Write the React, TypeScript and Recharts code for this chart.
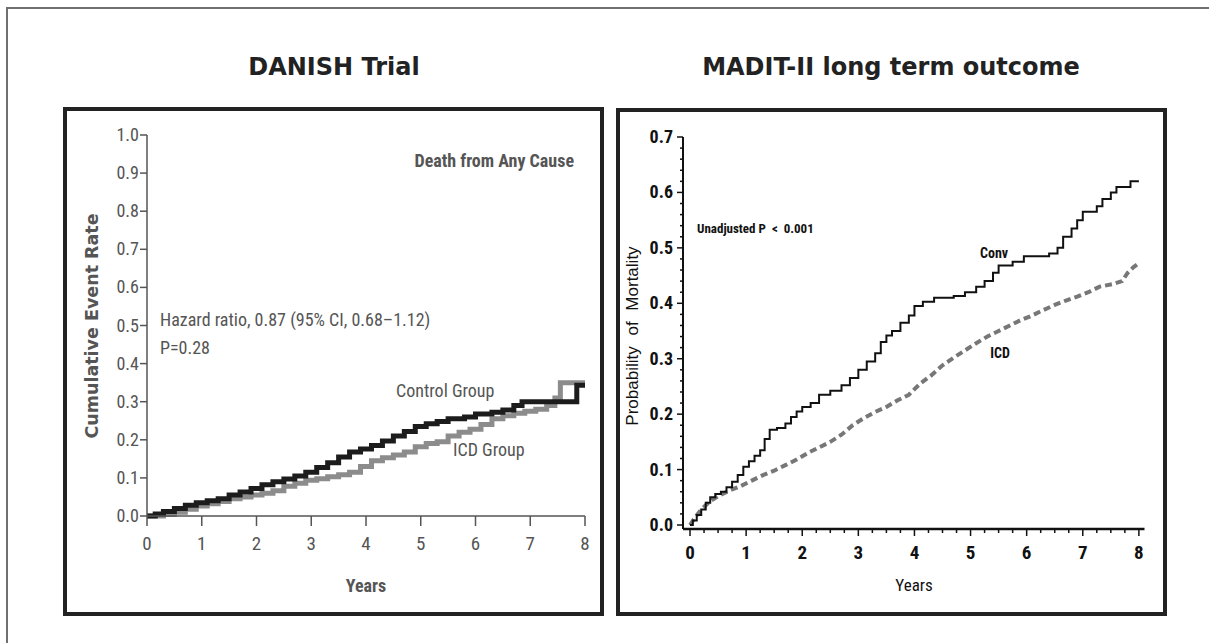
import React from 'react';
import { LineChart, Line, XAxis, YAxis } from 'recharts';

// ---------- DANISH trial (left) ----------
const danishControlYears = [0, 0.15, 0.3, 0.5, 0.7, 0.9, 1.1, 1.3, 1.5, 1.7, 1.9, 2.1, 2.3, 2.5, 2.7, 2.9, 3.1, 3.3, 3.5, 3.7, 3.9, 4.1, 4.3, 4.5, 4.7, 4.9, 5.1, 5.3, 5.5, 5.8, 6.0, 6.3, 6.5, 6.7, 6.85, 7.85, 8.0];
const danishControlRate = [0, 0.005, 0.012, 0.02, 0.028, 0.035, 0.04, 0.045, 0.055, 0.063, 0.072, 0.082, 0.09, 0.097, 0.105, 0.115, 0.127, 0.14, 0.155, 0.168, 0.176, 0.185, 0.197, 0.21, 0.222, 0.235, 0.242, 0.248, 0.255, 0.26, 0.268, 0.272, 0.278, 0.29, 0.3, 0.343, 0.343];
const danishIcdYears = [0, 0.3, 0.5, 0.7, 0.9, 1.1, 1.3, 1.5, 1.7, 1.9, 2.1, 2.3, 2.5, 2.7, 2.9, 3.1, 3.3, 3.5, 3.7, 3.9, 4.1, 4.3, 4.5, 4.7, 4.9, 5.1, 5.3, 5.5, 5.7, 5.9, 6.1, 6.3, 6.5, 6.7, 6.9, 7.1, 7.3, 7.45, 7.55, 8.0];
const danishIcdRate = [0, 0.004, 0.01, 0.018, 0.026, 0.032, 0.038, 0.045, 0.05, 0.055, 0.06, 0.066, 0.078, 0.086, 0.094, 0.098, 0.103, 0.108, 0.115, 0.13, 0.145, 0.153, 0.16, 0.168, 0.182, 0.19, 0.195, 0.21, 0.22, 0.228, 0.24, 0.255, 0.263, 0.27, 0.275, 0.28, 0.29, 0.31, 0.35, 0.35];
const danishYTicks = [0, 0.1, 0.2, 0.3, 0.4, 0.5, 0.6, 0.7, 0.8, 0.9, 1.0];
const danishXTicks = [0, 1, 2, 3, 4, 5, 6, 7, 8];

// ---------- MADIT-II (right) ----------
const maditConvYears = [0, 0.05, 0.12, 0.2, 0.28, 0.36, 0.45, 0.55, 0.65, 0.75, 0.85, 0.95, 1.05, 1.15, 1.25, 1.33, 1.42, 1.55, 1.7, 1.8, 1.9, 2.0, 2.15, 2.3, 2.5, 2.7, 2.85, 3.0, 3.15, 3.3, 3.4, 3.5, 3.6, 3.75, 3.9, 4.0, 4.15, 4.35, 4.7, 4.9, 5.1, 5.25, 5.4, 5.5, 5.75, 5.95, 6.4, 6.55, 6.65, 6.8, 6.9, 7.0, 7.25, 7.35, 7.5, 7.6, 7.85, 8.0];
const maditConvProb = [0, 0.008, 0.018, 0.028, 0.04, 0.05, 0.056, 0.06, 0.068, 0.078, 0.09, 0.105, 0.115, 0.125, 0.135, 0.155, 0.172, 0.175, 0.183, 0.195, 0.205, 0.213, 0.22, 0.235, 0.242, 0.252, 0.265, 0.28, 0.295, 0.31, 0.33, 0.342, 0.35, 0.365, 0.378, 0.395, 0.403, 0.41, 0.413, 0.42, 0.43, 0.44, 0.455, 0.468, 0.475, 0.485, 0.49, 0.5, 0.52, 0.535, 0.55, 0.565, 0.575, 0.588, 0.6, 0.61, 0.62, 0.62];
const maditIcdYears = [0, 0.1, 0.2, 0.35, 0.5, 0.7, 0.9, 1.1, 1.3, 1.5, 1.7, 1.9, 2.1, 2.3, 2.5, 2.7, 2.9, 3.1, 3.3, 3.5, 3.7, 3.9, 4.1, 4.3, 4.5, 4.7, 4.9, 5.1, 5.3, 5.5, 5.7, 5.9, 6.1, 6.3, 6.5, 6.7, 6.9, 7.1, 7.3, 7.55, 7.7, 7.8, 7.9, 8.0];
const maditIcdProb = [0, 0.015, 0.028, 0.042, 0.052, 0.062, 0.07, 0.08, 0.09, 0.098, 0.108, 0.118, 0.13, 0.14, 0.15, 0.163, 0.18, 0.193, 0.204, 0.213, 0.225, 0.235, 0.255, 0.27, 0.288, 0.302, 0.315, 0.328, 0.34, 0.35, 0.36, 0.37, 0.378, 0.388, 0.397, 0.405, 0.412, 0.42, 0.43, 0.435, 0.44, 0.455, 0.465, 0.472];
const maditYTicks = [0, 0.02, 0.04, 0.06, 0.08, 0.1, 0.12, 0.14, 0.16, 0.18, 0.2, 0.22, 0.24, 0.26, 0.28, 0.3, 0.32, 0.34, 0.36, 0.38, 0.4, 0.42, 0.44, 0.46, 0.48, 0.5, 0.52, 0.54, 0.56, 0.58, 0.6, 0.62, 0.64, 0.66, 0.68, 0.7];
const maditXTicks = [0, 0.25, 0.5, 0.75, 1, 1.25, 1.5, 1.75, 2, 2.25, 2.5, 2.75, 3, 3.25, 3.5, 3.75, 4, 4.25, 4.5, 4.75, 5, 5.25, 5.5, 5.75, 6, 6.25, 6.5, 6.75, 7, 7.25, 7.5, 7.75, 8];

const zip = (ts: number[], vs: number[]) => ts.map((t, i) => ({ t, v: vs[i] }));
const danishControl = zip(danishControlYears, danishControlRate);
const danishIcd = zip(danishIcdYears, danishIcdRate);
const maditConv = zip(maditConvYears, maditConvProb);
const maditIcd = zip(maditIcdYears, maditIcdProb);

const NARROW = "'Liberation Sans Narrow', 'Roboto Condensed', Roboto, 'Liberation Sans', sans-serif";
const LEFT_GRAY = '#555';
const isMajor = (v: number, step: number) => Math.abs(v / step - Math.round(v / step)) < 1e-6;

const LeftYTick = (props: any) => {
  const { x, y, payload } = props;
  return (
    <g>
      <line x1={x - 7} y1={y} x2={x} y2={y} stroke={LEFT_GRAY} strokeWidth={1.5} />
      <text x={x - 8} y={y} dy={6} textAnchor="end" fontFamily={NARROW} fontSize={18} fill={LEFT_GRAY}>
        {Number(payload.value).toFixed(1)}
      </text>
    </g>
  );
};
const LeftXTick = (props: any) => {
  const { x, y, payload } = props;
  return (
    <g>
      <line x1={x} y1={y} x2={x} y2={y + 10} stroke={LEFT_GRAY} strokeWidth={1.5} />
      <text x={x} y={y + 34} textAnchor="middle" fontFamily={NARROW} fontSize={19} fill={LEFT_GRAY}>
        {payload.value}
      </text>
    </g>
  );
};
const RightYTick = (props: any) => {
  const { x, y, payload } = props;
  const major = isMajor(payload.value, 0.1);
  return (
    <g>
      <line x1={x - (major ? 6 : 3)} y1={y} x2={x} y2={y} stroke="#111" strokeWidth={1.5} />
      {major && (
        <text x={x - 10} y={y} dy={6} textAnchor="end" fontFamily={NARROW} fontWeight="bold" fontSize={18} fill="#111">
          {Number(payload.value).toFixed(1)}
        </text>
      )}
    </g>
  );
};
const RightXTick = (props: any) => {
  const { x, y, payload } = props;
  const major = isMajor(payload.value, 1);
  return (
    <g>
      <line x1={x} y1={y} x2={x} y2={y + (major ? 7 : 4)} stroke="#111" strokeWidth={1.5} />
      {major && (
        <text x={x} y={y + 30} textAnchor="middle" fontFamily={NARROW} fontWeight="bold" fontSize={19} fill="#111">
          {payload.value}
        </text>
      )}
    </g>
  );
};

const abs = (l: number, t: number, w: number, h: number): React.CSSProperties => ({
  position: 'absolute', left: l, top: t, width: w, height: h, boxSizing: 'border-box',
});

export default function App() {
  return (
    <div style={{ position: 'absolute', left: 0, top: 0, width: 1209, height: 643, background: '#fff', overflow: 'hidden' }}>
      {/* outer frame (top & left) */}
      <div style={{ ...abs(6, 7, 1203, 2), background: '#707070' }} />
      <div style={{ ...abs(6, 7, 2, 636), background: '#707070' }} />

      {/* panel frames */}
      <div style={{ ...abs(63, 107, 541, 509), border: '4px solid #222' }} />
      <div style={{ ...abs(616, 108, 551, 508), border: '4px solid #222' }} />

      {/* Left chart */}
      <div style={abs(63, 107, 541, 509)}>
        <LineChart width={541} height={509} margin={{ top: 28, right: 19, bottom: 0, left: 0 }}>
          <XAxis type="number" dataKey="t" domain={[0, 8]} ticks={danishXTicks} height={100}
            axisLine={{ stroke: LEFT_GRAY, strokeWidth: 1.5 }} tickLine={false} tickSize={0} tickMargin={0}
            tick={<LeftXTick />} interval={0} />
          <YAxis type="number" domain={[0, 1]} ticks={danishYTicks} width={84}
            axisLine={{ stroke: LEFT_GRAY, strokeWidth: 1.5 }} tickLine={false} tickSize={0} tickMargin={0}
            tick={<LeftYTick />} interval={0} />
          <Line data={danishIcd} dataKey="v" type="stepAfter" stroke="#8c8c8c" strokeWidth={5} dot={false} isAnimationActive={false} />
          <Line data={danishControl} dataKey="v" type="stepAfter" stroke="#1c1c1c" strokeWidth={5} dot={false} isAnimationActive={false} />
        </LineChart>
      </div>

      {/* Right chart */}
      <div style={abs(616, 108, 551, 508)}>
        <LineChart width={551} height={508} margin={{ top: 29, right: 22.5, bottom: 0, left: 0 }}>
          <XAxis type="number" dataKey="t" domain={[-0.125, 8.1]} ticks={maditXTicks} height={87}
            axisLine={{ stroke: '#111', strokeWidth: 2.5 }} tickLine={false} tickSize={0} tickMargin={0}
            tick={<RightXTick />} interval={0} />
          <YAxis type="number" domain={[-0.0072, 0.7]} ticks={maditYTicks} width={67}
            axisLine={{ stroke: '#111', strokeWidth: 2 }} tickLine={false} tickSize={0} tickMargin={0}
            tick={<RightYTick />} interval={0} />
          <Line data={maditIcd} dataKey="v" type="linear" stroke="#777" strokeWidth={4} strokeDasharray="7 4" dot={false} isAnimationActive={false} />
          <Line data={maditConv} dataKey="v" type="stepAfter" stroke="#111" strokeWidth={2} dot={false} isAnimationActive={false} />
        </LineChart>
      </div>

      {/* text overlay */}
      <svg width={1209} height={643} style={{ position: 'absolute', left: 0, top: 0, pointerEvents: 'none' }}>
        <text x={334} y={75} textAnchor="middle" fontFamily="'DejaVu Sans', sans-serif" fontWeight="bold" fontSize={24} fill="#222">DANISH Trial</text>
        <text x={891} y={75} textAnchor="middle" fontFamily="'DejaVu Sans', sans-serif" fontWeight="bold" fontSize={24} fill="#222">MADIT-II long term outcome</text>

        <text x={574} y={167} textAnchor="end" fontFamily={NARROW} fontWeight="bold" fontSize={18} fill={LEFT_GRAY}>Death from Any Cause</text>
        <text x={160} y={326} fontFamily={NARROW} fontSize={18} fill={LEFT_GRAY}>Hazard ratio, 0.87 (95% CI, 0.68–1.12)</text>
        <text x={160} y={354} fontFamily={NARROW} fontSize={18} fill={LEFT_GRAY}>P=0.28</text>
        <text x={396} y={397} fontFamily={NARROW} fontSize={18} fill={LEFT_GRAY}>Control Group</text>
        <text x={453} y={456} fontFamily={NARROW} fontSize={18} fill={LEFT_GRAY}>ICD Group</text>
        <text x={366} y={592} textAnchor="middle" fontFamily={NARROW} fontWeight="bold" fontSize={18} fill={LEFT_GRAY}>Years</text>
        <text x={92} y={326} transform="rotate(-90 92 326)" textAnchor="middle" dominantBaseline="central" fontFamily="'DejaVu Sans', sans-serif" fontWeight="bold" fontSize={17.5} fill={LEFT_GRAY}>Cumulative Event Rate</text>

        <text x={697} y={233} fontFamily={NARROW} fontWeight="bold" fontSize={13} fill="#111" style={{ whiteSpace: 'pre' }}>{'Unadjusted P  <  0.001'}</text>
        <text x={994} y={258} textAnchor="middle" fontFamily={NARROW} fontWeight="bold" fontSize={14} fill="#111">Conv</text>
        <text x={1000} y={358} textAnchor="middle" fontFamily={NARROW} fontWeight="bold" fontSize={14} fill="#111">ICD</text>
        <text x={914} y={591} textAnchor="middle" fontFamily={NARROW} fontSize={17} fill="#111">Years</text>
        <text x={632} y={336} transform="rotate(-90 632 336)" textAnchor="middle" dominantBaseline="central" fontFamily="'Liberation Sans', Arial, sans-serif" fontSize={17} wordSpacing={6} fill="#111">Probability of Mortality</text>
      </svg>
    </div>
  );
}
